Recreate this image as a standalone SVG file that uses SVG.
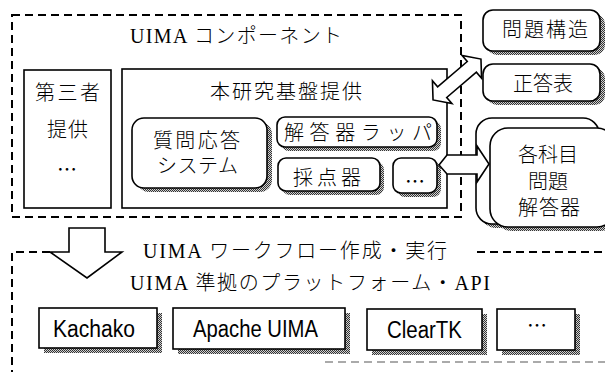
<svg xmlns="http://www.w3.org/2000/svg" width="605" height="372" viewBox="0 0 605 372">
<defs>
<pattern id="ht" width="2" height="2" patternUnits="userSpaceOnUse"><rect width="2" height="2" fill="#d0d0d0"/><rect width="1" height="1" fill="#333"/><rect x="1" y="1" width="1" height="1" fill="#333"/></pattern>
<style>
.box{fill:#fff;stroke:#000;stroke-width:1.6}
.sh{fill:url(#ht);stroke:none}
.dash{fill:none;stroke:#000;stroke-width:2;stroke-dasharray:8 5}
.arr{fill:#fff;stroke:#000;stroke-width:1.6;stroke-linejoin:miter}
.j{font-family:"Liberation Serif","Noto Sans CJK JP",serif;font-size:20px;font-weight:300;fill:#000}
.m{font-family:"Liberation Sans","DejaVu Sans",sans-serif;font-size:23px;fill:#000}
.e{font-family:"Noto Sans CJK JP",sans-serif;font-size:20px;fill:#000;text-anchor:middle}
</style>
</defs>
<rect width="605" height="372" fill="#fff"/>

<g id="uima-components">
<path class="dash" d="M12,15 H461 V217 H12 Z"/>
<text class="j" x="130" y="43" textLength="212">UIMA コンポーネント</text>
</g>

<g id="third-party">
<rect class="box" x="24" y="70" width="87" height="138"/>
<text class="j" x="35" y="100" textLength="65">第三者</text>
<text class="j" x="47" y="137" textLength="41">提供</text>
<text class="e" x="67" y="177">…</text>
</g>

<g id="research-base">
<rect class="box" x="122" y="69" width="325" height="139"/>
<text class="j" x="210" y="99" textLength="152">本研究基盤提供</text>
</g>

<g id="qa-system">
<rect class="sh" x="137" y="122" width="135" height="70" rx="12"/>
<rect class="box" x="132" y="118" width="135" height="70" rx="12"/>
<text class="j" x="153" y="148" textLength="87">質問応答</text>
<text class="j" x="157" y="173" textLength="81">システム</text>
</g>

<g id="solver-wrapper">
<rect class="sh" x="281" y="121" width="160" height="30" rx="8"/>
<rect class="box" x="277" y="117" width="160" height="30" rx="8"/>
<text class="j" x="284" y="140" textLength="148">解答器ラッパ</text>
</g>

<g id="scorer">
<rect class="sh" x="282" y="162" width="102" height="33" rx="8"/>
<rect class="box" x="278" y="158" width="102" height="33" rx="8"/>
<text class="j" x="293" y="185" textLength="68">採点器</text>
</g>

<g id="etc-component">
<rect class="sh" x="397" y="162" width="44" height="35" rx="8"/>
<rect class="box" x="393" y="158" width="44" height="35" rx="8"/>
<text class="e" x="415" y="189">…</text>
</g>

<g id="problem-structure">
<rect class="sh" x="487" y="14" width="118" height="41" rx="10"/>
<rect class="box" x="483" y="10" width="117" height="41" rx="10"/>
<text class="j" x="502" y="37" textLength="86">問題構造</text>
</g>

<g id="answer-table">
<rect class="sh" x="487" y="68" width="118" height="37" rx="10"/>
<rect class="box" x="483" y="64" width="117" height="37" rx="10"/>
<text class="j" x="513" y="91" textLength="60">正答表</text>
</g>

<g id="subject-solvers">
<rect class="sh" x="480" y="122" width="123" height="106" rx="16"/>
<rect class="box" x="476" y="118" width="123" height="106" rx="16"/>
<rect class="sh" x="494" y="132" width="125" height="99" rx="18"/>
<rect class="box" x="490" y="128" width="125" height="99" rx="18"/>
<text class="j" x="518" y="162" textLength="60">各科目</text>
<text class="j" x="528" y="189" textLength="40">問題</text>
<text class="j" x="518" y="215" textLength="62">解答器</text>
</g>

<g id="uima-platform">
<path class="dash" d="M50,252 H12 V372"/>
<path class="dash" d="M477,252 H605"/>
<path d="M325,362 H605" fill="none" stroke="#aaa" stroke-width="2" stroke-dasharray="8 5"/>
<text class="j" x="143" y="258" textLength="304">UIMA ワークフロー作成・実行</text>
<text class="j" x="130" y="290" textLength="360">UIMA 準拠のプラットフォーム・API</text>
</g>

<g id="kachako">
<rect class="sh" x="44" y="313" width="118" height="40"/>
<rect class="box" x="39" y="308" width="118" height="40"/>
<text class="m" x="53" y="337" textLength="82" lengthAdjust="spacingAndGlyphs">Kachako</text>
</g>

<g id="apache-uima">
<rect class="sh" x="178" y="313" width="172" height="41"/>
<rect class="box" x="173" y="308" width="172" height="41"/>
<text class="m" x="193" y="337" textLength="125" lengthAdjust="spacingAndGlyphs">Apache UIMA</text>
</g>

<g id="cleartk">
<rect class="sh" x="372" y="314" width="115" height="41"/>
<rect class="box" x="367" y="309" width="115" height="41"/>
<text class="m" x="387" y="338" textLength="75" lengthAdjust="spacingAndGlyphs">ClearTK</text>
</g>

<g id="etc-platform">
<rect class="sh" x="502" y="314" width="78" height="41"/>
<rect class="box" x="497" y="309" width="78" height="41"/>
<text class="e" x="537" y="333">…</text>
</g>

<g id="connectors">
<polygon class="arr" points="69,228 105,228 105,252 122,252 87,278 50,252 69,252"/>
<polygon class="arr" transform="translate(457,79.5) rotate(-40.5)" points="-31.5,0 -19.5,-15 -19.5,-7 19.5,-7 19.5,-15 31.5,0 19.5,15 19.5,7 -19.5,7 -19.5,15"/>
<polygon class="arr" points="439,165 447,155 477,155 477,146 489,164 477,182 477,174 447,174"/>
</g>
</svg>
